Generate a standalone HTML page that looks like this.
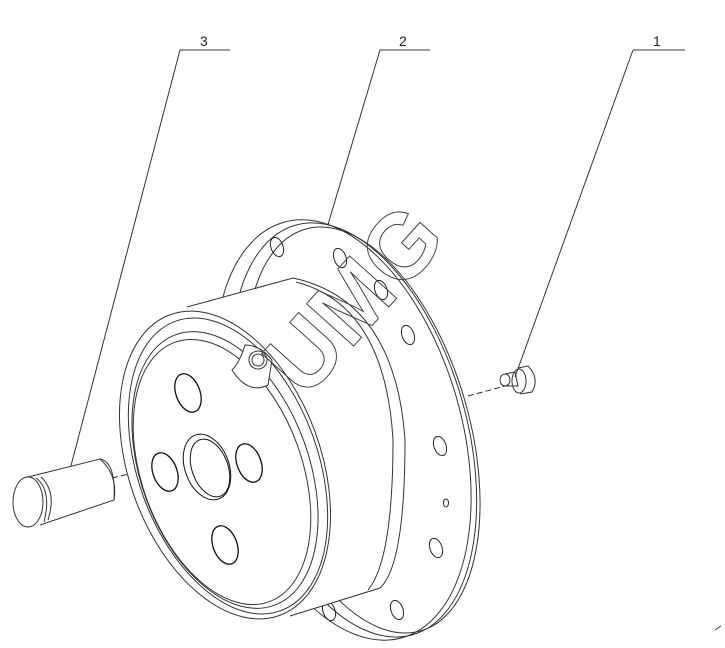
<!DOCTYPE html>
<html><head><style>
html,body{margin:0;padding:0;background:#fff;width:725px;height:648px;overflow:hidden}
svg{display:block}
text{font-family:"Liberation Sans",sans-serif;font-size:14px;fill:#222}
</style></head><body>
<svg width="725" height="648" viewBox="0 0 725 648" fill="none" stroke="#333" stroke-width="1">
<!-- leaders -->
<line x1="62" y1="500" x2="180" y2="50"/><line x1="180" y1="50" x2="230" y2="50"/>
<text x="200" y="46" stroke="none">3</text>
<line x1="293" y1="342" x2="380" y2="50"/><line x1="380" y1="50" x2="430" y2="50"/>
<text x="399" y="46" stroke="none">2</text>
<line x1="515" y1="377" x2="633" y2="50"/><line x1="633" y1="50" x2="685" y2="50"/>
<text x="653" y="46" stroke="none">1</text>
<!-- axis dashes -->
<line x1="468" y1="396" x2="505" y2="386" stroke-dasharray="6,3"/>
<line x1="112" y1="478" x2="178" y2="462" stroke-dasharray="6,3"/>
<!-- flange -->
<ellipse cx="343" cy="430" rx="118" ry="216" transform="rotate(-16 343 430)" fill="#fff"/>
<ellipse cx="354" cy="430" rx="112" ry="213" transform="rotate(-16 354 430)"/>
<ellipse cx="363" cy="430" rx="106" ry="209" transform="rotate(-16 363 430)"/>
<!-- flange holes -->
<g stroke="#222">
<ellipse cx="277" cy="247" rx="6" ry="10" transform="rotate(-20 277 247)"/>
<ellipse cx="340" cy="258" rx="6" ry="10" transform="rotate(-20 340 258)"/>
<ellipse cx="381" cy="290" rx="6" ry="10" transform="rotate(-20 381 290)"/>
<ellipse cx="408" cy="335" rx="6" ry="10" transform="rotate(-20 408 335)"/>
<ellipse cx="440" cy="446" rx="6" ry="10" transform="rotate(-20 440 446)"/>
<ellipse cx="446" cy="503" rx="2.5" ry="4"/>
<ellipse cx="436" cy="548" rx="6" ry="10" transform="rotate(-20 436 548)"/>
<ellipse cx="397" cy="610" rx="6" ry="10" transform="rotate(-20 397 610)"/>
<ellipse cx="329" cy="611" rx="6" ry="10" transform="rotate(-20 329 611)"/>
</g>
<!-- body cylinder -->
<path d="M187 307 L293 278 Q395 300 405 440 Q405 565 380 588 L290 616" fill="#fff"/>
<path d="M296 282 Q385 305 393 440 Q393 560 368 590"/>
<!-- front face -->
<ellipse cx="225" cy="465" rx="96" ry="160" transform="rotate(-20 225 465)" fill="#fff"/>
<ellipse cx="228" cy="466" rx="90" ry="154" transform="rotate(-20 228 466)"/>
<ellipse cx="225" cy="470" rx="84" ry="144" transform="rotate(-20 225 470)"/>
<ellipse cx="222" cy="472" rx="80" ry="138" transform="rotate(-20 222 472)"/>
<!-- notch -->
<path d="M245 345 Q240 362 232 370 Q248 395 268 385 L272 360 Q260 345 245 345Z" fill="#fff"/>
<circle cx="258" cy="360" r="9"/><circle cx="258" cy="360" r="6"/>
<!-- face holes -->
<g stroke="#111" stroke-width="1.3">
<ellipse cx="188" cy="393" rx="12" ry="20" transform="rotate(-20 188 393)"/>
<ellipse cx="165" cy="472" rx="12" ry="20" transform="rotate(-20 165 472)"/>
<ellipse cx="249" cy="463" rx="12" ry="20" transform="rotate(-20 249 463)"/>
<ellipse cx="225" cy="545" rx="12" ry="20" transform="rotate(-20 225 545)"/>
<ellipse cx="207" cy="467" rx="22" ry="34" transform="rotate(-20 207 467)" stroke-width="1"/>
<ellipse cx="210" cy="468" rx="18" ry="30" transform="rotate(-20 210 468)" stroke-width="1"/>
</g>
<!-- pin 3 -->
<path d="M28 477 L100 459 Q118 475 114 500 L40 525" fill="#fff"/>
<path d="M100 459 Q116 462 114 500"/>
<ellipse cx="28" cy="502" rx="15" ry="25" fill="#fff"/>
<path d="M36 478 Q52 490 44 522"/><path d="M41 477 Q57 492 48 520"/>
<!-- part 1 -->
<ellipse cx="505" cy="380" rx="5" ry="6"/>
<path d="M505 374 L515 372 L518 386 L506 386"/>
<path d="M518 368 L528 366 Q540 378 532 392 L520 394"/>
<ellipse cx="519" cy="381" rx="7" ry="12"/>
<!-- watermark -->
<text x="0" y="0" transform="translate(305 400) rotate(-48)" style="font-size:92px;font-weight:bold;fill:none;stroke:#444;stroke-width:1">UMG</text>
<line x1="715" y1="630" x2="721" y2="626"/>
</svg>
</body></html>
